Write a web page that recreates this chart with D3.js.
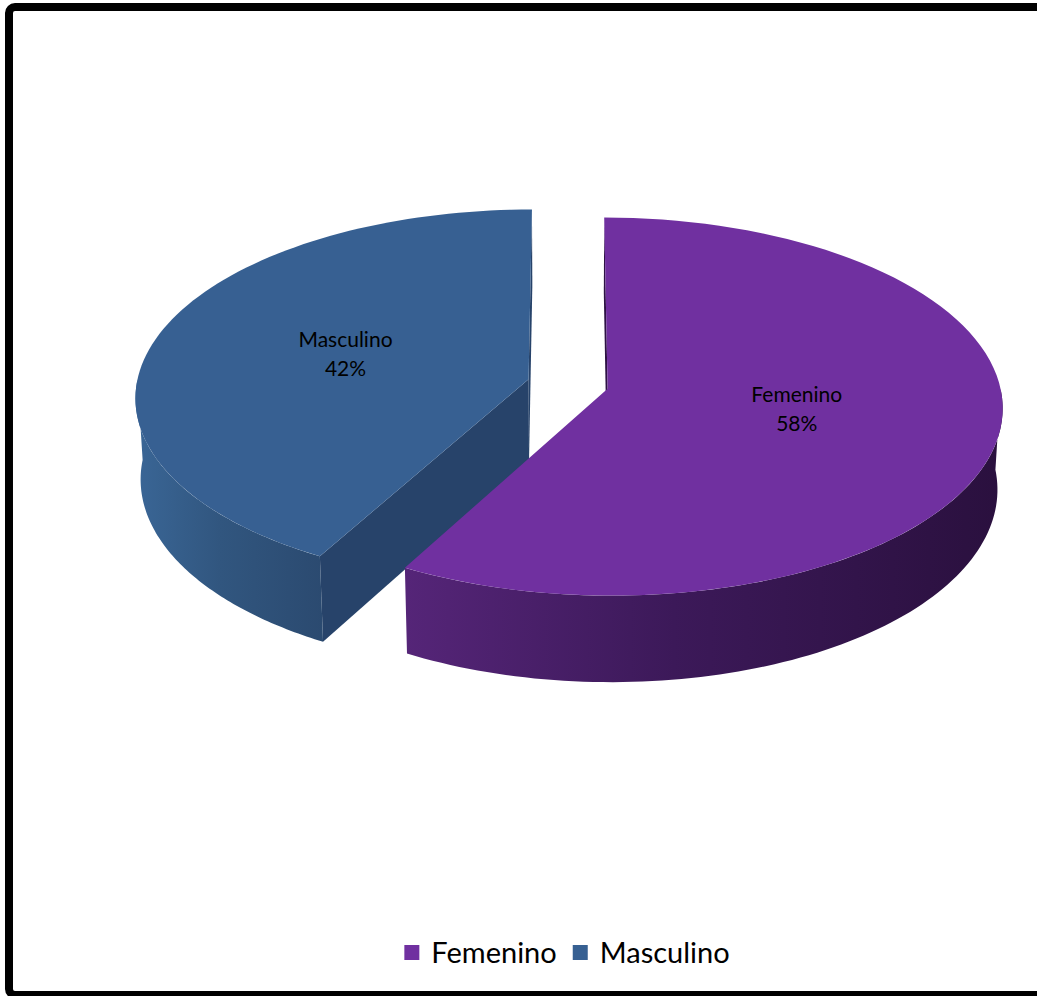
<!DOCTYPE html>
<meta charset="utf-8">
<style>
 body { margin: 0; background: #fff; }
 text { font-family: Lato, "Open Sans", sans-serif; fill: #000; }
</style>
<svg class="chart"></svg>
<script src="https://cdn.jsdelivr.net/npm/d3@7/dist/d3.min.js"></script>
<script>

 var categories = ["Femenino", "Masculino"];
 var values = [58, 42];
 var labels = ["58%", "42%"];
 var topColors = ["#7030A0", "#376092"];
 var sideLight = ["#552578", "#3a6696"];
 var sideMid = ["#3c1959", "#31567f"];
 var sideDark = ["#2a103e", "#2b4a70"];
 var faceColors = ["#2e1245", "#27436a"];

 var width = 1037, height = 996;

 // view of the tilted pie (perspective)
 var R = 392, H = 93, D = 3680, cx = 568, cy = 384, explode = 40.8;
 var elev = 28.4 * Math.PI / 180;
 var sinE = Math.sin(elev), cosE = Math.cos(elev);

 function proj(u, v, h) {
     var dist = D - v * cosE - h * sinE;
     var s = D / dist;
     return [cx + u * s, cy + (v * sinE - h * cosE) * s];
 }
 function pt(sl, r, a, h) {
     return proj(sl.ou + r * Math.sin(a), sl.ov - r * Math.cos(a), h);
 }
 function arcPts(sl, a0, a1, h) {
     var pts = [], n = 90;
     for (var i = 0; i <= n; i++) pts.push(pt(sl, R, a0 + (a1 - a0) * i / n, h));
     return pts;
 }
 var line = d3.line();

 var svg = d3.select(".chart").attr("width", width).attr("height", height);
 var defs = svg.append("defs");

 // frame
 svg.append("rect").attr("x", 9).attr("y", 7).attr("width", 1060).attr("height", 988)
    .attr("rx", 6).attr("fill", "#fff").attr("stroke", "#000").attr("stroke-width", 8);

 var pie = d3.pie().sort(null).value(function(d) { return d; });
 var slices = pie(values).map(function(p, i) {
     var mid = (p.startAngle + p.endAngle) / 2;
     return { i: i, a0: p.startAngle, a1: p.endAngle, mid: mid,
              ou: explode * Math.sin(mid), ov: -explode * Math.cos(mid) };
 });
 slices.sort(function(a, b) { return a.ov - b.ov; });

 var camU = 0, camV = D * cosE;

 slices.forEach(function(sl) {
     var g = svg.append("g");
     var i = sl.i;

     // radial faces
     [[sl.a0, -1], [sl.a1, 1]].forEach(function(f) {
         var a = f[0];
         var nu = f[1] * Math.cos(a), nv = f[1] * Math.sin(a);
         var pu = sl.ou + R / 2 * Math.sin(a), pv = sl.ov - R / 2 * Math.cos(a);
         if (nu * (camU - pu) + nv * (camV - pv) <= 0) return;
         var poly = [pt(sl, 0, a, 0), pt(sl, R, a, 0), pt(sl, R, a, -H), pt(sl, 0, a, -H)];
         g.append("path").attr("d", line(poly) + "Z").attr("fill", faceColors[i]);
     });

     // outer side, front part only
     var s0 = Math.max(sl.a0, Math.PI / 2), s1 = Math.min(sl.a1, 3 * Math.PI / 2);
     if (s1 > s0) {
         var topArc = arcPts(sl, s0, s1, 0);
         var botArc = arcPts(sl, s0, s1, -H).reverse();
         var xs = topArc.concat(botArc).map(function(p) { return p[0]; });
         var gid = "side" + i;
         var grad = defs.append("linearGradient").attr("id", gid)
             .attr("gradientUnits", "userSpaceOnUse")
             .attr("x1", d3.min(xs)).attr("x2", d3.max(xs)).attr("y1", 0).attr("y2", 0);
         grad.append("stop").attr("offset", "0%").attr("stop-color", sideLight[i]);
         grad.append("stop").attr("offset", "45%").attr("stop-color", sideMid[i]);
         grad.append("stop").attr("offset", "100%").attr("stop-color", sideDark[i]);
         g.append("path").attr("d", line(topArc.concat(botArc)) + "Z").attr("fill", "url(#" + gid + ")");
     }

     // top face
     var topPoly = [pt(sl, 0, 0, 0)].concat(arcPts(sl, sl.a0, sl.a1, 0));
     g.append("path").attr("d", line(topPoly) + "Z").attr("fill", topColors[i]);

     // label
     var lp = pt(sl, R * 0.49, sl.mid, 0);
     var t = g.append("text").attr("text-anchor", "middle").attr("font-size", 21)
        .attr("x", lp[0]).attr("y", lp[1] - 10);
     t.append("tspan").attr("x", lp[0]).text(categories[i]);
     t.append("tspan").attr("x", lp[0]).attr("dy", 29).text(labels[i]);
 });

 // legend, centred under the pie
 var legend = svg.append("g");
 var lx = 0;
 categories.forEach(function(c, i) {
     var item = legend.append("g").attr("transform", "translate(" + lx + ",0)");
     item.append("rect").attr("width", 15).attr("height", 15).attr("fill", topColors[i]);
     var tx = item.append("text").attr("x", 27).attr("y", 18).attr("font-size", 29).text(c);
     lx += 27 + tx.node().getComputedTextLength() + (i < categories.length - 1 ? 16 : 0);
 });
 legend.attr("transform", "translate(" + (567 - lx / 2) + ",945)");

</script>
